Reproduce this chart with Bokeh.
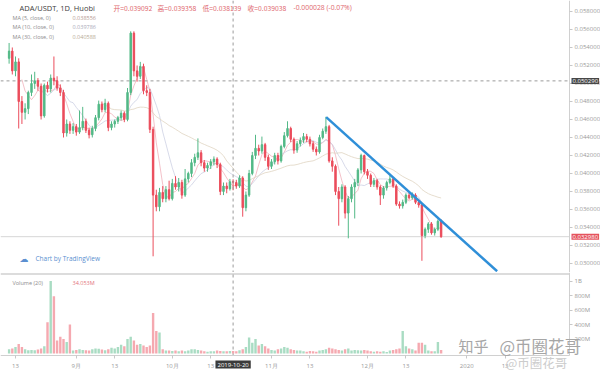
import numpy as np
import pandas as pd
from bokeh.plotting import figure
from bokeh.layouts import column
from bokeh.models import Range1d, FixedTicker, NumeralTickFormatter, Span, Label, ColumnDataSource
from bokeh.embed import file_html
from bokeh.resources import INLINE

# ---------------- data ----------------
dates = pd.date_range("2019-08-11", "2019-12-24", freq="D")

opens = [0.0528, 0.0536, 0.0514, 0.0524, 0.0480, 0.0468, 0.0472, 0.0490, 0.0500, 0.0503,
         0.0497, 0.0464, 0.0498, 0.0494, 0.0506, 0.0503, 0.0495, 0.0490, 0.0445, 0.0455,
         0.0448, 0.0452, 0.0446, 0.0451, 0.0458, 0.0448, 0.0443, 0.0450, 0.0462, 0.0477,
         0.0471, 0.0478, 0.0451, 0.0455, 0.0458, 0.0462, 0.0467, 0.0460, 0.0490, 0.0556,
         0.0514, 0.0508, 0.0519, 0.0492, 0.0490, 0.0449, 0.0376, 0.0363, 0.0379, 0.0372,
         0.0382, 0.0372, 0.0389, 0.0385, 0.0390, 0.0376, 0.0394, 0.0400, 0.0412, 0.0418,
         0.0423, 0.0412, 0.0406, 0.0409, 0.0413, 0.0416, 0.0410, 0.0380, 0.0386, 0.0383,
         0.039092, 0.0390, 0.0386, 0.0395, 0.0362, 0.0376, 0.0400, 0.0420, 0.0428, 0.0425,
         0.0432, 0.0418, 0.0408, 0.0413, 0.0420, 0.0414, 0.0430, 0.0442, 0.0450, 0.0438,
         0.0426, 0.0433, 0.0437, 0.0441, 0.0438, 0.0433, 0.0427, 0.0424, 0.0440, 0.0447,
         0.0452, 0.0414, 0.0408, 0.0380, 0.0372, 0.0385, 0.0356, 0.0372, 0.0385, 0.0390,
         0.0404, 0.0420, 0.0402, 0.0398, 0.0388, 0.0392, 0.0385, 0.0376, 0.0384, 0.0390,
         0.0394, 0.0386, 0.0366, 0.0364, 0.0368, 0.0376, 0.0373, 0.0376, 0.0368, 0.0365,
         0.0331, 0.0338, 0.0344, 0.0334, 0.0338, 0.0347]
highs = [0.0545, 0.0540, 0.0530, 0.0528, 0.0486, 0.0478, 0.0492, 0.0510, 0.0513, 0.0506,
         0.0500, 0.0500, 0.0502, 0.0510, 0.0530, 0.0508, 0.0499, 0.0493, 0.0460, 0.0458,
         0.0456, 0.0455, 0.0470, 0.0474, 0.0461, 0.0451, 0.0453, 0.0465, 0.0481, 0.0480,
         0.0483, 0.0480, 0.0458, 0.0460, 0.0464, 0.0470, 0.0469, 0.0495, 0.0558, 0.0558,
         0.0520, 0.0524, 0.0522, 0.0498, 0.0494, 0.0452, 0.0382, 0.0384, 0.0386, 0.0386,
         0.0392, 0.0394, 0.0397, 0.0395, 0.0393, 0.0405, 0.0402, 0.0416, 0.0422, 0.0439,
         0.0426, 0.0415, 0.0412, 0.0416, 0.0419, 0.0418, 0.0412, 0.0390, 0.0390, 0.0394,
         0.039358, 0.0393, 0.0398, 0.0397, 0.0380, 0.0404, 0.0424, 0.0443, 0.0432, 0.0441,
         0.0434, 0.0421, 0.0416, 0.0423, 0.0423, 0.0432, 0.0446, 0.0458, 0.0452, 0.0440,
         0.0436, 0.0440, 0.0445, 0.0444, 0.0441, 0.0436, 0.0430, 0.0443, 0.0450, 0.0463,
         0.0454, 0.0418, 0.0410, 0.0385, 0.0388, 0.0387, 0.0375, 0.0388, 0.0394, 0.0406,
         0.0422, 0.0421, 0.0405, 0.0400, 0.0395, 0.0394, 0.0387, 0.0386, 0.0392, 0.0398,
         0.0396, 0.0388, 0.0369, 0.0371, 0.0378, 0.0379, 0.0379, 0.0378, 0.0370, 0.0367,
         0.0340, 0.0346, 0.0346, 0.0340, 0.0349, 0.0349]
lows = [0.0522, 0.0510, 0.0508, 0.0450, 0.0455, 0.0460, 0.0466, 0.0486, 0.0494, 0.0492,
        0.0460, 0.0462, 0.0490, 0.0490, 0.0498, 0.0492, 0.0486, 0.0440, 0.0441, 0.0444,
        0.0444, 0.0442, 0.0444, 0.0448, 0.0445, 0.0439, 0.0440, 0.0447, 0.0459, 0.0468,
        0.0468, 0.0447, 0.0448, 0.0451, 0.0455, 0.0459, 0.0457, 0.0458, 0.0487, 0.0508,
        0.0502, 0.0505, 0.0488, 0.0486, 0.0445, 0.0308, 0.0358, 0.0358, 0.0368, 0.0368,
        0.0370, 0.0370, 0.0382, 0.0380, 0.0372, 0.0374, 0.0390, 0.0396, 0.0408, 0.0415,
        0.0408, 0.0402, 0.0402, 0.0405, 0.0409, 0.0406, 0.0376, 0.0376, 0.0378, 0.0381,
        0.038139, 0.0383, 0.0384, 0.0352, 0.0358, 0.0374, 0.0398, 0.0416, 0.0420, 0.0422,
        0.0414, 0.0404, 0.0405, 0.0410, 0.0410, 0.0412, 0.0428, 0.0440, 0.0435, 0.0422,
        0.0423, 0.0430, 0.0434, 0.0435, 0.0430, 0.0424, 0.0420, 0.0422, 0.0438, 0.0444,
        0.0412, 0.0402, 0.0376, 0.0342, 0.0368, 0.0350, 0.0328, 0.0368, 0.0350, 0.0386,
        0.0400, 0.0399, 0.0394, 0.0385, 0.0385, 0.0382, 0.0365, 0.0372, 0.0381, 0.0388,
        0.0384, 0.0364, 0.0361, 0.0361, 0.0366, 0.0371, 0.0371, 0.0366, 0.0362, 0.0303,
        0.0328, 0.0334, 0.0332, 0.0331, 0.0336, 0.03285]
closes = [0.0536, 0.0514, 0.0524, 0.0480, 0.0468, 0.0472, 0.0490, 0.0500, 0.0503, 0.0497,
          0.0464, 0.0498, 0.0494, 0.0506, 0.0503, 0.0495, 0.0490, 0.0445, 0.0455, 0.0448,
          0.0452, 0.0446, 0.0451, 0.0458, 0.0448, 0.0443, 0.0450, 0.0462, 0.0477, 0.0471,
          0.0478, 0.0451, 0.0455, 0.0458, 0.0462, 0.0467, 0.0460, 0.0490, 0.0556, 0.0514,
          0.0508, 0.0519, 0.0492, 0.0490, 0.0449, 0.0376, 0.0363, 0.0379, 0.0372, 0.0382,
          0.0372, 0.0389, 0.0385, 0.0390, 0.0376, 0.0394, 0.0400, 0.0412, 0.0418, 0.0423,
          0.0412, 0.0406, 0.0409, 0.0413, 0.0416, 0.0410, 0.0380, 0.0386, 0.0383, 0.03907,
          0.039038, 0.0386, 0.0395, 0.0362, 0.0376, 0.0400, 0.0420, 0.0428, 0.0425, 0.0432,
          0.0418, 0.0408, 0.0413, 0.0420, 0.0414, 0.0430, 0.0442, 0.0450, 0.0438, 0.0426,
          0.0433, 0.0437, 0.0441, 0.0438, 0.0433, 0.0427, 0.0424, 0.0440, 0.0447, 0.0452,
          0.0414, 0.0408, 0.0380, 0.0372, 0.0385, 0.0356, 0.0372, 0.0385, 0.0390, 0.0404,
          0.0420, 0.0402, 0.0398, 0.0388, 0.0392, 0.0385, 0.0376, 0.0384, 0.0390, 0.0394,
          0.0386, 0.0366, 0.0364, 0.0368, 0.0376, 0.0373, 0.0376, 0.0368, 0.0365, 0.0331,
          0.0338, 0.0344, 0.0334, 0.0338, 0.0347, 0.03298]
volumes_m = [60, 70, 90, 130, 90, 60, 45, 50, 45, 55,
             70, 100, 430, 1000, 790, 180, 230, 200, 160, 400,
             40, 50, 60, 50, 45, 40, 60, 70, 65, 55,
             45, 60, 80, 70, 90, 120, 100, 200, 230, 180,
             120, 130, 110, 90, 110, 560, 310, 290, 60, 40,
             40, 35, 40, 30, 40, 30, 40, 60, 60, 50,
             40, 30, 25, 30, 30, 40, 35, 30, 30, 35,
             34.053, 30, 45, 60, 90, 220, 150, 200, 110, 130,
             100, 70, 50, 40, 60, 70, 90, 80, 60, 50,
             40, 40, 30, 25, 35, 30, 25, 40, 50, 60,
             80, 70, 60, 50, 40, 60, 70, 40, 50, 45,
             40, 50, 40, 30, 25, 30, 25, 30, 20, 40,
             50, 60, 70, 310, 100, 70, 60, 40, 150, 150,
             120, 40, 30, 30, 160, 50]

price_ticks = [0.030, 0.032, 0.034, 0.036, 0.038, 0.040, 0.042, 0.044, 0.046,
               0.048, 0.050, 0.052, 0.054, 0.056, 0.058]
vol_ticks = [200e6, 400e6, 600e6, 800e6, 1000e6]
vol_tick_labels = ["200M", "400M", "600M", "800M", "1B"]
time_ticks = ["2019-08-13", "2019-09-01", "2019-09-13", "2019-10-01", "2019-10-13",
              "2019-11-01", "2019-11-13", "2019-12-01", "2019-12-13", "2020-01-01", "2020-01-13"]
time_tick_labels = ["13", "9月", "13", "10月", "13", "11月", "13", "12月", "13", "2020", "13"]

trend_dates = ["2019-11-18 02:00", "2020-01-10 12:00"]
trend_prices = [0.04626, 0.02914]
last_price = 0.03298
cross_date = "2019-10-20"
cross_price = 0.05029

# ---------------- layout / styling ----------------
UP, DOWN = "#53b987", "#eb4d5c"
UP_V, DOWN_V = "#a9dcc3", "#f5a9b0"
FONT = "Open Sans"
CJK = "Noto Sans CJK SC"
DAY = 86400000
W = 600
PANE_W = 569                     # pixel where the price/volume panes end
DAY_PX = 3.2                     # pixels per day on the time scale

def ms(d):
    return pd.Timestamp(d).value / 1e6

X0 = ms("2019-08-11") - 2.69 * DAY
X_END = X0 + W / DAY_PX * DAY
X_PANE = X0 + PANE_W / DAY_PX * DAY

up = [c >= o for o, c in zip(opens, closes)]
src = ColumnDataSource(dict(
    x=dates, o=opens, h=highs, l=lows, c=closes,
    top=[max(o, c) for o, c in zip(opens, closes)],
    bottom=[min(o, c) for o, c in zip(opens, closes)],
    color=[UP if u else DOWN for u in up],
    vcolor=[UP_V if u else DOWN_V for u in up],
    vol=[v * 1e6 for v in volumes_m],
))

common = dict(width=W, x_range=Range1d(X0, X_END), x_axis_type="datetime",
              y_axis_location="right", toolbar_location=None, output_backend="svg",
              min_border_left=0, min_border_right=0, min_border_top=0, min_border_bottom=0,
              outline_line_color=None, background_fill_color="white", border_fill_color="white")

def style_axis(ax, standoff):
    ax.major_label_text_font = FONT
    ax.major_label_text_font_size = "6px"
    ax.major_label_text_color = "#9a9a9a"
    ax.axis_line_color = "#d0d0d0"
    ax.major_tick_line_color = "#c8c8c8"
    ax.major_tick_out = 3
    ax.major_tick_in = 0
    ax.minor_tick_line_color = None
    ax.major_label_standoff = standoff

# ---------------- price pane ----------------
H1 = 272
p1 = figure(height=H1, y_range=Range1d(0.0290, 0.05922), x_axis_location=None, **common)
p1.grid.visible = False

# moving averages (computed from the closes)
cs = pd.Series(closes)
for n, col in [(5, "#f0b2bb"), (10, "#cdd1e3"), (30, "#e0d5c2")]:
    p1.line(dates, cs.rolling(n).mean().values, line_color=col, line_width=1, line_alpha=0.8)

p1.segment(x0=[X0], y0=[last_price], x1=[X_PANE], y1=[last_price], line_color="#d6d6d6", line_width=1)
p1.segment(x0=[X0], y0=[cross_price], x1=[X_PANE], y1=[cross_price], line_color="#9a9a9a",
           line_width=1, line_dash="3 3")
p1.add_layout(Span(location=ms(cross_date), dimension="height", line_color="#9a9a9a",
                   line_width=1, line_dash="3 3"))

p1.segment(x0="x", y0="l", x1="x", y1="h", line_color="color", line_width=1, source=src)
p1.vbar(x="x", width=0.45 * DAY, top="top", bottom="bottom", fill_color="color",
        line_color="color", line_width=1, source=src)

p1.line([pd.Timestamp(d) for d in trend_dates], trend_prices, line_color="#2f8fd8", line_width=2.5)

ya = p1.yaxis[0]
ya.fixed_location = X_PANE
ya.ticker = FixedTicker(ticks=price_ticks)
ya.formatter = NumeralTickFormatter(format="0.000000")
style_axis(ya, 2)

def lab1(x, y, text, color, size, font=FONT, **kw):
    p1.add_layout(Label(x=x, y=H1 - y, x_units="screen", y_units="screen", text=text,
                        text_color=color, text_font_size=size, text_font=font,
                        text_baseline="middle", **kw))

lab1(19, 7, "ADA/USDT, 1D, Huobi", "#3d3d3d", "7.5px")
lab1(113, 7, "开=0.039092", "#e0676e", "6.8px", font=CJK)
lab1(157, 7, "高=0.039358", "#e0676e", "6.8px", font=CJK)
lab1(202, 7, "低=0.038139", "#e0676e", "6.8px", font=CJK)
lab1(247, 7, "收=0.039038", "#e0676e", "6.8px", font=CJK)
lab1(293, 7, "-0.000028 (-0.07%)", "#e0676e", "6.8px")
lab1(12, 17, "MA (5, close, 0)", "#8c8c8c", "5.5px")
lab1(12, 26, "MA (10, close, 0)", "#8c8c8c", "5.5px")
lab1(12, 36, "MA (30, close, 0)", "#8c8c8c", "5.5px")
lab1(72, 17, "0.038556", "#b59a90", "5.5px")
lab1(72, 26, "0.039786", "#a9a9b8", "5.5px")
lab1(72, 36, "0.040588", "#b8ab95", "5.5px")
lab1(19, 258, "☁", "#5b8fd0", "9px", font="DejaVu Sans")
lab1(35, 258, "Chart by TradingView", "#5b8fd0", "6.5px")

p1.add_layout(Label(x=571, y=cross_price, x_units="screen", y_units="data", text="0.050290",
                    text_color="white", text_font=FONT, text_font_size="6px",
                    text_baseline="middle", background_fill_color="#474747", padding=1))
p1.add_layout(Label(x=571, y=last_price, x_units="screen", y_units="data", text="0.032980",
                    text_color="white", text_font=FONT, text_font_size="6px",
                    text_baseline="middle", background_fill_color="#e5535d", padding=1))

# ---------------- volume pane + time axis ----------------
H2 = 100
TOP2 = 272          # canvas y where this figure starts
BASE_Y = 353        # canvas y of zero volume
AXIS_Y = 355        # canvas y of the time axis line
V_PX = 13.8e6       # volume per pixel
V_LO = -(TOP2 + H2 - BASE_Y) * V_PX
V_HI = (BASE_Y - TOP2) * V_PX

def vy(y):
    return (BASE_Y - y) * V_PX

p2 = figure(height=H2, y_range=Range1d(V_LO, V_HI), **common)
p2.grid.visible = False
p2.segment(x0=[X0], y0=[vy(273.5)], x1=[X_PANE], y1=[vy(273.5)], line_color="#dcdcdc", line_width=2)
p2.segment(x0=[ms(cross_date)], y0=[vy(AXIS_Y)], x1=[ms(cross_date)], y1=[V_HI],
           line_color="#9a9a9a", line_width=1, line_dash="3 3")
p2.vbar(x="x", width=0.75 * DAY, top="vol", bottom=0, fill_color="vcolor",
        line_color=None, source=src)

va = p2.yaxis[0]
va.fixed_location = X_PANE
va.bounds = (vy(AXIS_Y), V_HI)
va.ticker = FixedTicker(ticks=vol_ticks)
va.major_label_overrides = {int(t): l for t, l in zip(vol_ticks, vol_tick_labels)}
style_axis(va, 2)

tms = [int(ms(t)) for t in time_ticks]
xa = p2.xaxis[0]
xa.fixed_location = vy(AXIS_Y)
xa.bounds = (X0, X_PANE)
xa.ticker = FixedTicker(ticks=tms)
xa.major_label_overrides = {t: l for t, l in zip(tms, time_tick_labels)}
style_axis(xa, 3)

def lab2(x, y, text, color, size, font=FONT, **kw):
    p2.add_layout(Label(x=x, y=TOP2 + H2 - y, x_units="screen", y_units="screen", text=text,
                        text_color=color, text_font_size=size, text_font=font,
                        text_baseline="middle", **kw))

lab2(12, 282, "Volume (20)", "#8c8c8c", "5.5px")
lab2(72, 282, "34.053M", "#e3737c", "5.5px")
lab2(458, 345, "知乎", "#a6a6a6", "15px", font=CJK)
lab2(499, 345, "@币圈花哥", "#a6a6a6", "16.5px", font=CJK)
lab2(505, 361.5, "@币圈花哥", "#cccccc", "12.5px", font=CJK)

p2.add_layout(Label(x=ms(cross_date), y=TOP2 + H2 - 364, x_units="data", y_units="screen",
                    text="2019-10-20", text_color="white", text_font=FONT, text_font_size="6px",
                    text_align="center", text_baseline="middle",
                    background_fill_color="#3b3b3b", padding=2))

layout = column(p1, p2)
open("out.html", "w").write(file_html(layout, INLINE))
